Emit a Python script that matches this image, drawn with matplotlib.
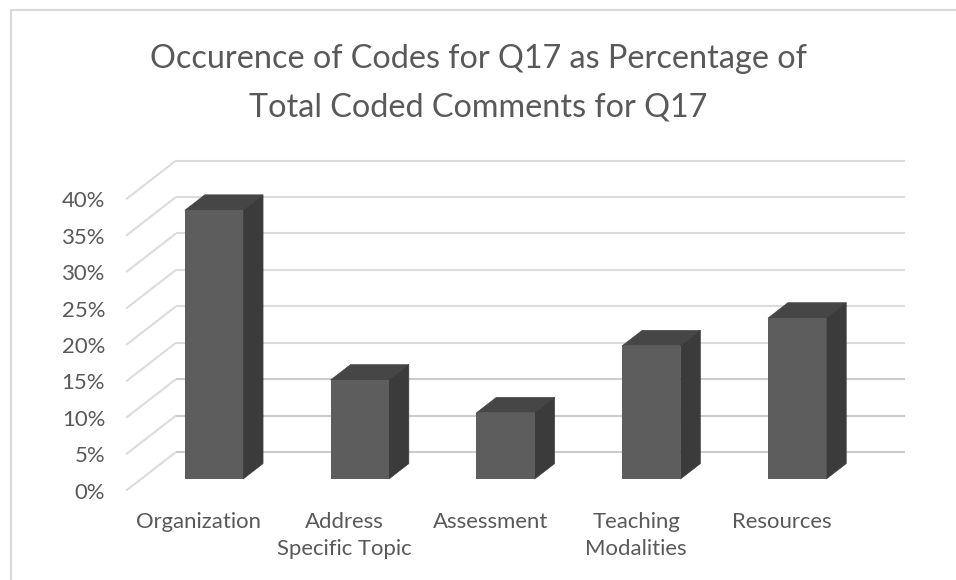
import matplotlib
matplotlib.use("Agg")
import matplotlib.pyplot as plt
from matplotlib.lines import Line2D
from matplotlib.ticker import FuncFormatter

plt.rcParams['font.family'] = ['Lato', 'DejaVu Sans']

categories = ["Organization", "Address\nSpecific Topic", "Assessment", "Teaching\nModalities", "Resources"]
values = [36.9, 13.6, 9.1, 18.3, 22.1]
y_ticks = [0, 5, 10, 15, 20, 25, 30, 35, 40]
title = "Occurence of Codes for Q17 as Percentage of\nTotal Coded Comments for Q17"

W, H = 956, 580
fig = plt.figure(figsize=(W / 100, H / 100), dpi=100, facecolor="white")

# plot plane (front of the oblique box), in pixels
L, R, B, T = 126, 855, 490.7, 199.3
ax = fig.add_axes([L / W, 1 - B / H, (R - L) / W, (B - T) / H])
ax.set_xlim(-0.5, 4.5)
ax.set_ylim(0, 40)
ax.patch.set_visible(False)
for s in ax.spines.values():
    s.set_visible(False)

# oblique depth of the floor in data units
DX = 50 / 145.8
DY = 38.7 / 7.285
T0, T1 = 0.30, 0.70   # depth range of the bars
BAR_W = 0.40

GRID = "#dcdcdc"
for v in y_ticks:
    ax.plot([-0.5, -0.5 + DX], [v, v + DY], color=GRID, lw=1.5, clip_on=False, zorder=1, solid_capstyle="butt")
    ax.plot([-0.5 + DX, 4.5 + DX], [v + DY, v + DY], color="#cccccc" if v in (0, 5, 10) else GRID,
            lw=1.5, clip_on=False, zorder=1, solid_capstyle="butt")

FRONT, TOP, SIDE = "#5d5d5d", "#464646", "#3b3b3b"
for i, v in enumerate(values):
    x0 = i - BAR_W / 2
    x1 = i + BAR_W / 2
    ax.fill([x0 + T0 * DX, x1 + T0 * DX, x1 + T1 * DX, x0 + T1 * DX],
            [v + T0 * DY, v + T0 * DY, v + T1 * DY, v + T1 * DY],
            facecolor=TOP, edgecolor=TOP, lw=0.4, zorder=3, clip_on=False)
    ax.fill([x1 + T0 * DX, x1 + T1 * DX, x1 + T1 * DX, x1 + T0 * DX],
            [T0 * DY, T1 * DY, v + T1 * DY, v + T0 * DY],
            facecolor=SIDE, edgecolor=SIDE, lw=0.4, zorder=3, clip_on=False)
    ax.bar(i + T0 * DX, v, BAR_W, bottom=T0 * DY, color=FRONT, edgecolor="none", zorder=4, clip_on=False)

TXT = "#595959"
ax.set_yticks(y_ticks)
ax.yaxis.set_major_formatter(FuncFormatter(lambda v, _: f"{int(v)}%"))
ax.set_xticks(range(len(categories)))
ax.set_xticklabels(categories, linespacing=1.47)
ax.tick_params(axis="both", length=0, labelsize=15.9, labelcolor=TXT)
ax.tick_params(axis="y", pad=15)
ax.tick_params(axis="x", pad=15)

fig.suptitle(title, x=0.5, y=1 - 44 / H, va="top", ha="center", fontsize=23.3, color=TXT, linespacing=1.78)

# chart frame: top and left edges
fig.add_artist(Line2D([11 / W, 11 / W], [0, 1 - 10 / H], color="#d9d9d9", lw=1.5))
fig.add_artist(Line2D([11 / W, 1], [1 - 10 / H, 1 - 10 / H], color="#d9d9d9", lw=1.5))

fig.savefig("out.png", dpi=100, facecolor="white")
